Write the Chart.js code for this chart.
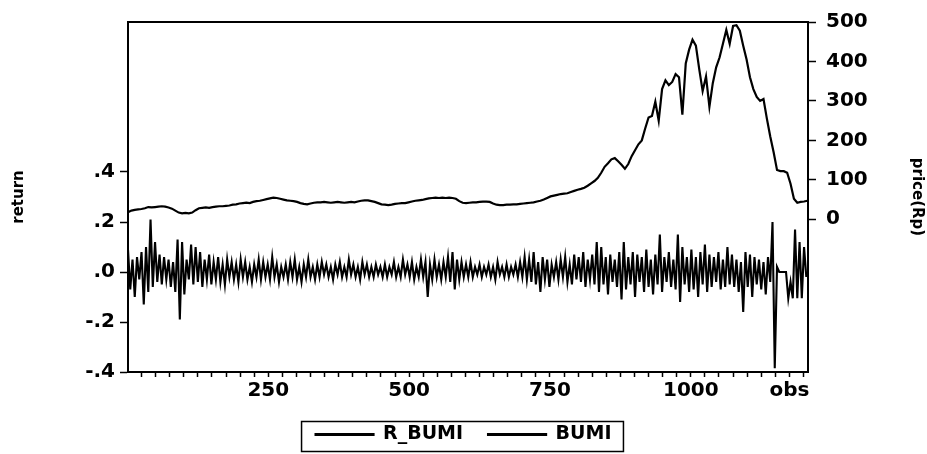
<!DOCTYPE html>
<html>
<head>
<meta charset="utf-8">
<script src="https://cdn.jsdelivr.net/npm/chart.js@4.4.1/dist/chart.umd.min.js"></script>
<style>
html,body{margin:0;padding:0;background:#fff;}
#wrap{width:927px;height:454px;position:relative;}
</style>
</head>
<body>
<div id="wrap"><canvas id="c"></canvas></div>
<script>
// ---- data ----
const OBS_FIRST = 1;
const OBS_LAST = 1208;
const PRICE_STEP = 6;   // price sampled every 6th observation
const RETURN_STEP = 4;  // return sampled every 4th observation

const seriesNames = ['R_BUMI', 'BUMI'];

// BUMI price (Rp), obs 1,7,13,...
const priceBUMI = [
  18,22,24,25,26,28,31,30,31,32,
  33,32,30,27,22,17,15,16,15,17,
  23,28,29,30,29,31,32,33,33,34,
  35,37,38,40,41,42,41,44,46,47,
  49,51,53,55,54,52,50,48,47,46,
  44,41,39,38,40,42,43,43,44,43,
  42,43,44,43,42,43,44,43,45,47,
  48,48,46,44,41,38,37,36,37,39,
  40,41,41,43,45,47,48,49,51,53,
  54,55,54,55,54,55,54,52,46,42,
  41,42,43,43,44,45,45,44,40,37,
  36,36,37,37,38,38,39,40,41,42,
  43,45,47,50,54,58,60,62,64,65,
  66,69,72,75,77,80,85,91,97,105,
  118,133,142,152,155,147,138,128,140,160,
  175,190,200,230,258,262,298,250,330,352,
  340,348,368,360,265,395,430,455,440,380,
  325,362,285,345,385,410,445,480,445,490,
  492,478,440,405,360,330,310,300,305,255,
  210,170,125,122,122,118,90,52,42,44,
  45,47
];

// R_BUMI return, obs 1,5,9,...
const returnBUMI = [
  0.09,-0.07,0.05,-0.10,0.06,-0.03,0.08,-0.13,0.10,-0.08,
  0.21,-0.06,0.12,-0.04,0.07,-0.05,0.06,-0.03,0.05,-0.06,
  0.04,-0.08,0.13,-0.19,0.12,-0.09,0.05,-0.03,0.11,-0.05,
  0.10,-0.04,0.08,-0.06,0.05,-0.03,0.07,-0.05,0.04,-0.03,
  0.06,-0.04,0.03,-0.05,0.05,-0.02,0.04,-0.03,0.03,-0.04,
  0.05,-0.02,0.04,-0.03,0.02,-0.04,0.03,-0.02,0.05,-0.03,
  0.04,-0.02,0.03,-0.03,0.06,-0.02,0.03,-0.04,0.02,-0.02,
  0.03,-0.03,0.04,-0.02,0.05,-0.03,0.02,-0.04,0.03,-0.02,
  0.05,-0.02,0.02,-0.03,0.03,-0.02,0.04,-0.01,0.03,-0.02,
  0.02,-0.03,0.03,-0.01,0.04,-0.02,0.02,-0.02,0.05,-0.01,
  0.03,-0.02,0.02,-0.03,0.04,-0.01,0.03,-0.02,0.02,-0.02,
  0.03,-0.01,0.02,-0.02,0.03,-0.02,0.02,-0.01,0.04,-0.02,
  0.02,-0.02,0.05,-0.01,0.03,-0.02,0.04,-0.03,0.02,-0.02,
  0.05,-0.02,0.04,-0.10,0.03,-0.03,0.05,-0.02,0.03,-0.03,
  0.04,-0.02,0.06,-0.04,0.08,-0.07,0.05,-0.03,0.04,-0.02,
  0.03,-0.02,0.04,-0.02,0.02,-0.01,0.03,-0.02,0.02,-0.01,
  0.03,-0.02,0.02,-0.03,0.04,-0.01,0.02,-0.02,0.03,-0.02,
  0.02,-0.01,0.03,-0.02,0.04,-0.02,0.06,-0.03,0.05,-0.04,
  0.08,-0.05,0.04,-0.08,0.06,-0.03,0.05,-0.06,0.03,-0.02,
  0.04,-0.03,0.05,-0.02,0.06,-0.04,0.03,-0.05,0.07,-0.03,
  0.06,-0.04,0.08,-0.06,0.05,-0.03,0.07,-0.05,0.12,-0.08,
  0.10,-0.05,0.06,-0.09,0.07,-0.04,0.05,-0.06,0.08,-0.11,
  0.12,-0.07,0.06,-0.05,0.08,-0.10,0.07,-0.04,0.06,-0.08,
  0.09,-0.06,0.05,-0.09,0.07,-0.05,0.15,-0.08,0.06,-0.04,
  0.08,-0.06,0.05,-0.07,0.15,-0.12,0.10,-0.05,0.06,-0.08,
  0.09,-0.07,0.06,-0.10,0.08,-0.05,0.11,-0.08,0.07,-0.06,
  0.06,-0.04,0.08,-0.07,0.05,-0.06,0.10,-0.05,0.07,-0.06,
  0.05,-0.08,0.04,-0.16,0.08,-0.06,0.07,-0.10,0.06,-0.05,
  0.05,-0.07,0.04,-0.09,0.06,-0.04,0.20,-0.385,0.02,0.00,
  0.00,0.00,0.00,-0.105,-0.04,-0.105,0.17,-0.105,0.12,-0.105,
  0.10,-0.02
];

// axis tick labels
const returnTicks = [-0.4, -0.2, 0, 0.2, 0.4];
const priceTicks = [0, 100, 200, 300, 400, 500];
const obsMajorTicks = [250, 500, 750, 1000];
const obsMinorStep = 25;
const obsLabelText = 'obs';
const obsLabelAt = 1175;
const returnAxisTitle = 'return';
const priceAxisTitle = 'price(Rp)';

// ---- build chart data ----
const returnPoints = returnBUMI.map((v, i) => ({x: OBS_FIRST + i * RETURN_STEP, y: v}));
const pricePoints = priceBUMI.map((v, i) => ({x: OBS_FIRST + i * PRICE_STEP, y: v}));

const FONT = '"DejaVu Sans", "Liberation Sans", Arial, sans-serif';
const tickFont = {family: FONT, size: 20, weight: 'bold'};

const legendFrame = {
  id: 'legendFrame',
  afterDraw(chart) {
    const lg = chart.legend;
    if (!lg || !lg.legendHitBoxes || !lg.legendHitBoxes.length) return;
    const hb = lg.legendHitBoxes;
    const first = hb[0], last = hb[hb.length - 1];
    const ctx = chart.ctx;
    const l = first.left - 14, r = last.left + last.width + 12;
    const cy = first.top + first.height / 2;
    ctx.save();
    ctx.strokeStyle = '#000';
    ctx.lineWidth = 1.5;
    ctx.strokeRect(l, cy - 13, r - l, 30);
    ctx.restore();
  }
};

new Chart(document.getElementById('c'), {
  type: 'line',
  data: {
    datasets: [
      {
        label: seriesNames[0],
        data: returnPoints,
        yAxisID: 'y',
        borderColor: '#000',
        backgroundColor: '#000',
        borderWidth: 2.1,
        pointRadius: 0,
        tension: 0
      },
      {
        label: seriesNames[1],
        data: pricePoints,
        yAxisID: 'y1',
        borderColor: '#000',
        backgroundColor: '#000',
        borderWidth: 2.2,
        pointRadius: 0,
        tension: 0
      }
    ]
  },
  options: {
    responsive: true,
    maintainAspectRatio: false,
    animation: false,
    events: [],
    layout: {padding: 0},
    plugins: {
      tooltip: {enabled: false},
      legend: {
        display: true,
        position: 'bottom',
        labels: {
          color: '#000',
          font: {family: FONT, size: 19, weight: 'bold'},
          boxWidth: 58,
          boxHeight: 1,
          padding: 25
        }
      }
    },
    scales: {
      x: {
        type: 'linear',
        position: 'bottom',
        min: OBS_FIRST,
        max: OBS_LAST,
        afterBuildTicks: (s) => {
          const t = [];
          for (let v = obsMinorStep; v <= OBS_LAST; v += obsMinorStep) t.push({value: v});
          s.ticks = t;
        },
        afterFit: (s) => { s.height = 28; },
        ticks: {
          autoSkip: false,
          maxRotation: 0,
          minRotation: 0,
          padding: 2,
          color: '#000',
          font: tickFont,
          callback: (v) => obsMajorTicks.includes(v) ? String(v) : (v === obsLabelAt ? obsLabelText : '')
        },
        grid: {drawOnChartArea: false, tickLength: 5, color: '#000', tickWidth: 1.5},
        border: {display: true, color: '#000', width: 2}
      },
      x2: {
        type: 'linear',
        position: 'top',
        min: OBS_FIRST,
        max: OBS_LAST,
        afterFit: (s) => { s.height = 19; },
        ticks: {display: false},
        grid: {display: false, drawTicks: false},
        border: {display: true, color: '#000', width: 2}
      },
      y: {
        type: 'linear',
        position: 'left',
        min: -0.4,
        max: 1.0,
        afterBuildTicks: (s) => { s.ticks = returnTicks.map(v => ({value: v})); },
        afterFit: (s) => { s.width = 128; },
        ticks: {
          padding: 5,
          color: '#000',
          font: tickFont,
          callback: (v) => {
            const a = Math.round(Math.abs(v) * 10);
            return (v < 0 ? '-' : '') + '.' + a;
          }
        },
        title: {
          display: true,
          text: returnAxisTitle,
          color: '#000',
          font: {family: FONT, size: 15, weight: 'bold'},
          padding: {top: 10, bottom: 0}
        },
        grid: {drawOnChartArea: false, tickLength: 8, color: '#000', tickWidth: 1.5},
        border: {display: true, color: '#000', width: 2}
      },
      y1: {
        type: 'linear',
        position: 'right',
        min: -387,
        max: 500,
        afterBuildTicks: (s) => { s.ticks = priceTicks.map(v => ({value: v})); },
        afterFit: (s) => { s.width = 119; },
        ticks: {
          padding: 10,
          color: '#000',
          font: tickFont,
          callback: (v) => String(v)
        },
        title: {
          display: true,
          text: priceAxisTitle,
          color: '#000',
          font: {family: FONT, size: 15, weight: 'bold'},
          padding: {top: 1, bottom: 0}
        },
        grid: {drawOnChartArea: false, tickLength: 8, color: '#000', tickWidth: 1.5},
        border: {display: true, color: '#000', width: 2}
      }
    }
  },
  plugins: [legendFrame]
});
</script>
</body>
</html>
